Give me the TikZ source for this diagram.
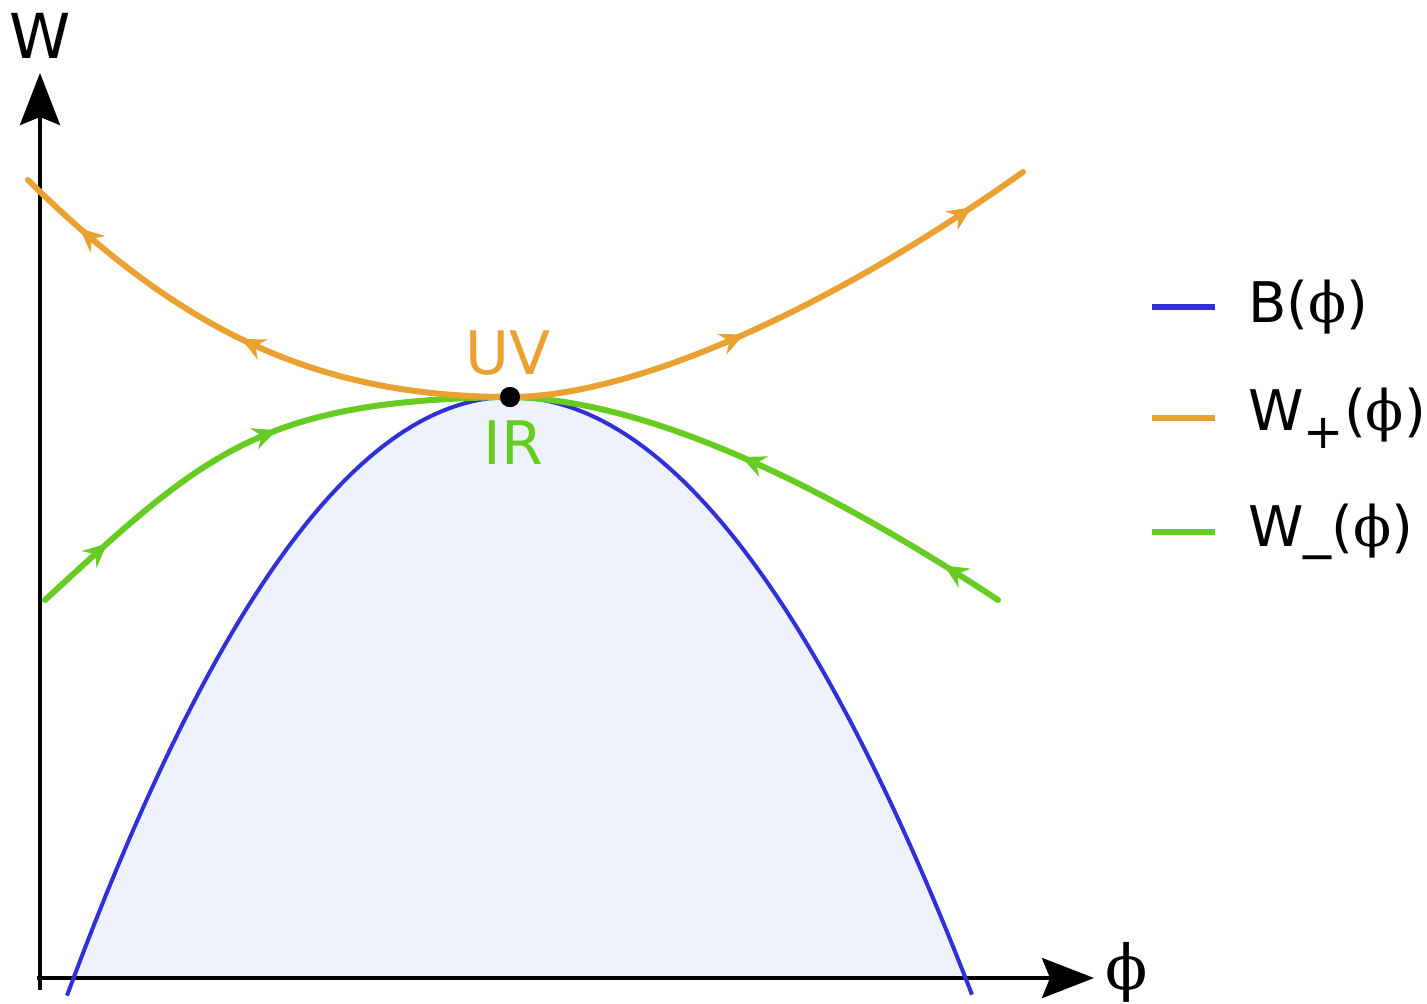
\documentclass[tikz,border=0pt]{standalone}
\usepackage{fontspec}
\setmainfont{DejaVu Sans}
\newfontfamily\phifont{DejaVu Serif}
\usetikzlibrary{arrows.meta,decorations.markings}
\definecolor{bcol}{HTML}{3030D8}
\definecolor{wpcol}{HTML}{E9A232}
\definecolor{wmcol}{HTML}{66CC22}
\definecolor{bfill}{HTML}{EEF2FC}

\newcommand{\fph}{{\phifont ϕ}}
\tikzset{flowtip/.tip={Stealth[length=12pt,width=11pt,inset=4pt]}}

\begin{document}
\begin{tikzpicture}[x=0.5pt, y=-0.5pt, >=Stealth,
    axis/.style={line width=2pt, -{Stealth[length=26pt,width=20pt,inset=4pt]}},
    flow/.style n args={2}{line width=3pt, line cap=round,
      decoration={markings, mark=at position #1 with {\arrow{flowtip}},
                            mark=at position #2 with {\arrow{flowtip}}},
      postaction={decorate}},
    lbl/.style={font=\fontsize{28}{34}\selectfont, inner sep=0pt},
    legline/.style={line width=3pt},
    fixpt/.style={circle, fill=black, inner sep=0pt, minimum size=10pt}]

  \useasboundingbox (0,0) rectangle (1427,1003);

  % shaded region under B
  \fill[bfill] (74,978)
    -- plot[domain=74:510, samples=60] (\x, {397+30.5*((\x-510)/100)*((\x-510)/100)})
    -- plot[domain=510:965, samples=60] (\x, {397+28*((\x-510)/100)*((\x-510)/100)})
    -- cycle;

  % axes
  \coordinate (origin) at (40,990);
  \coordinate (ytip) at (40,73);
  \coordinate (xstart) at (37,978);
  \coordinate (xtip) at (1094,978);
  \draw[axis] (origin) -- (ytip);
  \draw[axis] (xstart) -- (xtip);
  \node[lbl, font=\fontsize{31}{34}\selectfont] (wlabel) at (40,36) {W};
  \node[lbl, font=\fontsize{31}{34}\selectfont] (philabel) at (1127,972) {\fph};

  % B(phi)
  \draw[bcol, line width=2pt]
    plot[domain=67:510, samples=60] (\x, {397+30.5*((\x-510)/100)*((\x-510)/100)});
  \draw[bcol, line width=2pt]
    plot[domain=510:972, samples=60] (\x, {397+28*((\x-510)/100)*((\x-510)/100)});

  % fixed point and end points of the flows
  \node[fixpt] (fp) at (510,397) {};
  \coordinate (ml) at (45,600);
  \coordinate (mr) at (998,600);
  \coordinate (pl) at (28,180);
  \coordinate (pr) at (1023,172);

  % W_-(phi), flowing into the fixed point
  \draw[wmcol, flow={0.16}{0.55}] (ml) .. controls (205,453) and (260,400) .. (fp.center);
  \draw[wmcol, flow={0.12}{0.55}] (mr) .. controls (848,501) and (660,400) .. (fp.center);

  % W_+(phi), flowing away from the fixed point
  \draw[wpcol, flow={0.51}{0.87}] (fp.center) .. controls (310,397) and (175,325) .. (pl);
  \draw[wpcol, flow={0.43}{0.89}] (fp.center) .. controls (630,397) and (823,314) .. (pr);

  \node[fixpt] at (fp) {};
  \node[lbl, text=wpcol, font=\fontsize{30}{34}\selectfont] (uv) at (508,353) {UV};
  \node[lbl, text=wmcol, font=\fontsize{30}{34}\selectfont] (ir) at (513,443) {IR};

  % legend
  \coordinate (lb1) at (1152,307);  \coordinate (lb2) at (1215,307);
  \coordinate (lp1) at (1152,418);  \coordinate (lp2) at (1215,418);
  \coordinate (lm1) at (1152,532);  \coordinate (lm2) at (1215,532);
  \draw[legline, bcol] (lb1) -- (lb2);
  \draw[legline, wpcol] (lp1) -- (lp2);
  \draw[legline, wmcol] (lm1) -- (lm2);
  \node[lbl, anchor=west] (legb) at (1248,307) {B(\fph)};
  \node[lbl, anchor=west] (legp) at (1248,418) {W\raisebox{-0.32em}{\fontsize{24}{24}\selectfont +}(\fph)};
  \node[lbl, anchor=west] (legm) at (1248,532) {W\_(\fph)};
\end{tikzpicture}
\end{document}
